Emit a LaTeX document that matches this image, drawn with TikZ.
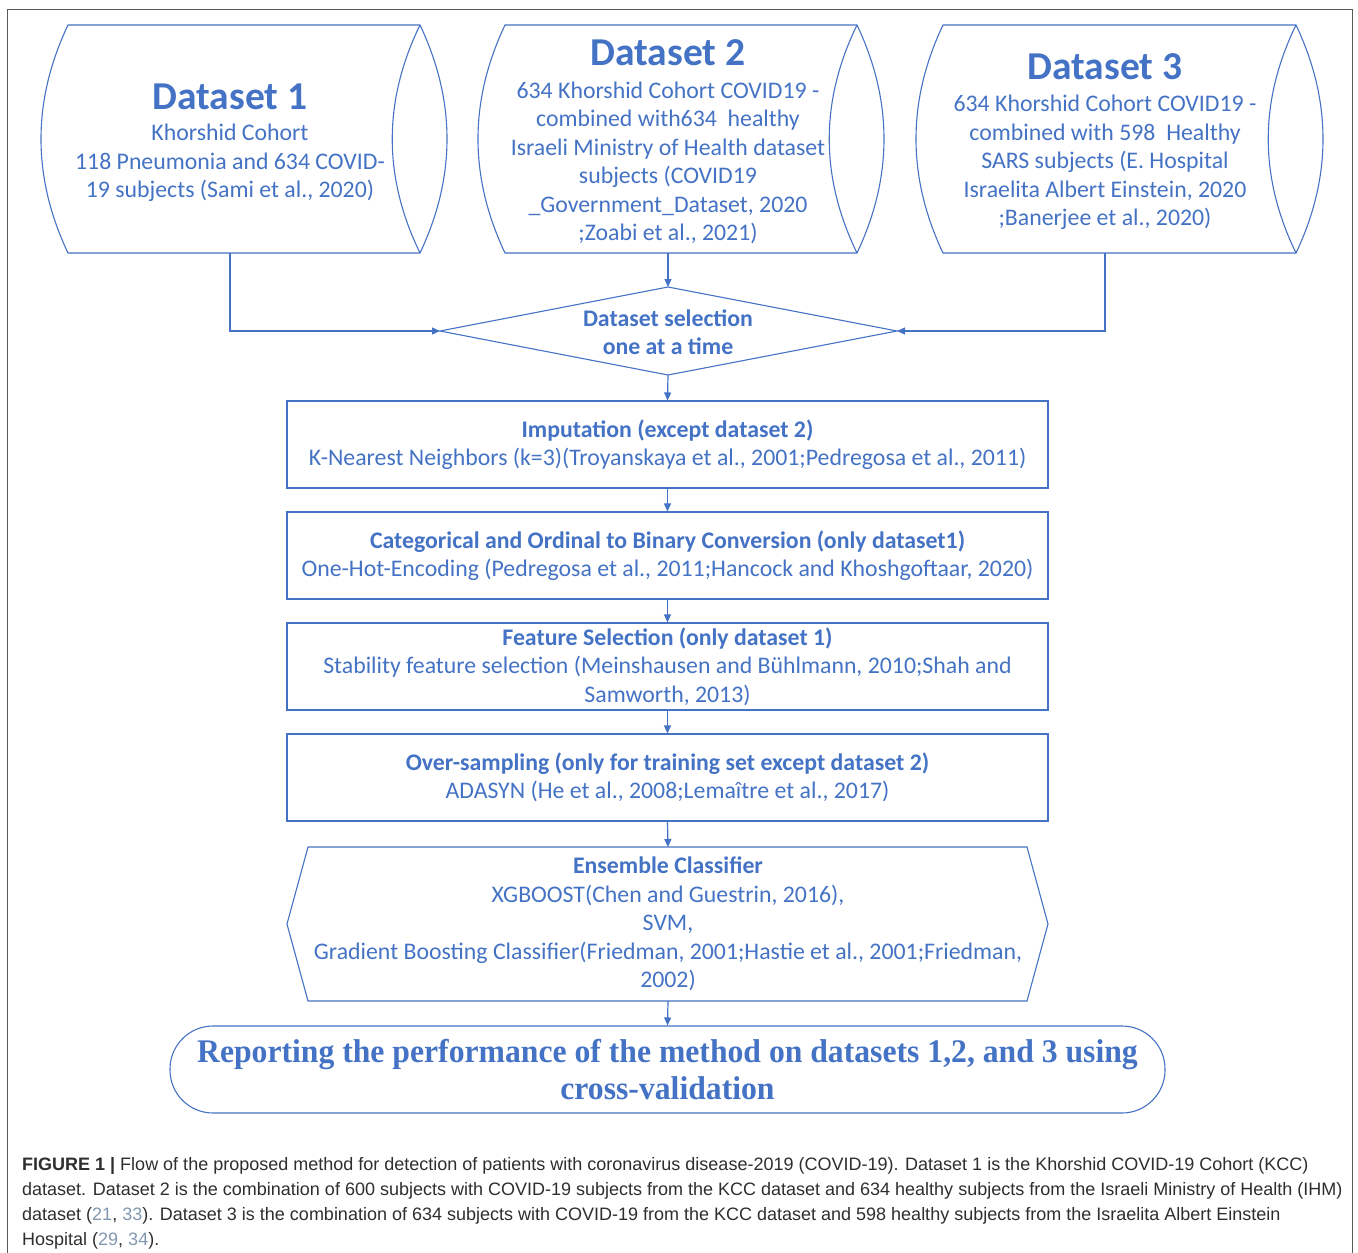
\documentclass[tikz,border=0pt]{standalone}
\usepackage{fontspec}
\setmainfont{Carlito}
\newfontfamily\repfont[FakeStretch=0.96]{Liberation Serif}
\newfontfamily\capfont{Liberation Sans}
\usetikzlibrary{arrows.meta}
\definecolor{myblue}{HTML}{4472C4}
\definecolor{capgray}{HTML}{2E2E2E}
\definecolor{citeblue}{HTML}{8297B0}
\newcommand\dbshape[2]{%
  \draw[shapeline] (#1,25) -- (#2,25) .. controls (#2+36,101) and (#2+36,177) .. (#2,253) -- (#1,253) .. controls (#1-36,177) and (#1-36,101) .. (#1,25) -- cycle;
  \draw[shapeline] (#2,25) .. controls (#2-37,101) and (#2-37,177) .. (#2,253);
}
\newcommand\citec[1]{\textcolor{citeblue}{#1}}
\begin{document}
\begin{tikzpicture}[x=1pt,y=-1pt,
  shapeline/.style={draw=myblue, line width=1.1},
  arr/.style={draw=myblue, line width=1.2, -{Triangle[length=8,width=7]}},
  body/.style={text=myblue, font=\fontsize{23.8}{28.5}\selectfont, align=center, inner sep=0},
  dstitle/.style={text=myblue, font=\fontsize{39.5}{42}\selectfont\bfseries, inner sep=0},
  procbox/.style={draw=myblue, line width=1.1, minimum width=761, minimum height=87, text=myblue, font=\fontsize{23.8}{28.5}\selectfont, align=center, inner sep=0},
  captext/.style={anchor=base west, inner sep=0, text=capgray, font=\capfont\fontsize{18}{22}\selectfont},
]
\useasboundingbox (0,0) rectangle (1358,1253);
% outer frame
\draw[draw=black!65, line width=0.9] (7,9) rectangle (1352,1275);

% datasets
\dbshape{68}{420}
\dbshape{505}{857}
\dbshape{943}{1296}

\node[dstitle] (d1t) at (230,97) {Dataset 1};
\node[body] (d1b) at (230,163) {Khorshid Cohort\\118 Pneumonia and 634 COVID-\\19 subjects (Sami et al., 2020)};

\node[dstitle] (d2t) at (668,53) {Dataset 2};
\node[body] (d2b) at (668,163) {634 Khorshid Cohort COVID19 -\\combined with634\ \ healthy\\Israeli Ministry of Health dataset\\subjects (COVID19\\\_Government\_Dataset, 2020\\;Zoabi et al., 2021)};

\node[dstitle] (d3t) at (1105,67) {Dataset 3};
\node[body] (d3b) at (1105,162.5) {634 Khorshid Cohort COVID19 -\\combined with 598\ \ Healthy\\SARS subjects (E. Hospital\\Israelita Albert Einstein, 2020\\;Banerjee et al., 2020)};

\coordinate (d1out) at (230,253);
\coordinate (d2out) at (668,253);
\coordinate (d3out) at (1105,253);

% selection diamond
\coordinate (selW) at (440,331);
\coordinate (selE) at (897,331);
\coordinate (selN) at (668,287);
\coordinate (selS) at (668,375);
\draw[shapeline] (selN) -- (selE) -- (selS) -- (selW) -- cycle;
\node[body, font=\fontsize{23.8}{28.5}\selectfont\bfseries] (sel) at (668,332) {Dataset selection\\one at a time};

% process boxes
\node[procbox] (imp) at (667.5,444.5) {\textbf{Imputation (except dataset 2)}\\K-Nearest Neighbors (k=3)(Troyanskaya et al., 2001;Pedregosa et al., 2011)};
\node[procbox] (cat) at (667.5,555.5) {\textbf{Categorical and Ordinal to Binary Conversion (only dataset1)}\\One-Hot-Encoding (Pedregosa et al., 2011;Hancock and Khoshgoftaar, 2020)};
\node[procbox] (fs) at (667.5,666.5) {\textbf{Feature Selection (only dataset 1)}\\Stability feature selection (Meinshausen and Bühlmann, 2010;Shah and\\Samworth, 2013)};
\node[procbox] (ovs) at (667.5,777.5) {\textbf{Over-sampling (only for training set except dataset 2)}\\ADASYN (He et al., 2008;Lemaître et al., 2017)};

% ensemble hexagon
\coordinate (ensN) at (668,847);
\coordinate (ensS) at (668,1001);
\draw[shapeline] (308,847) -- (1027,847) -- (1048,924) -- (1027,1001) -- (308,1001) -- (287,924) -- cycle;
\node[body] (ens) at (668,924) {\textbf{Ensemble Classifier}\\XGBOOST(Chen and Guestrin, 2016),\\SVM,\\Gradient Boosting Classifier(Friedman, 2001;Hastie et al., 2001;Friedman,\\2002)};

% report terminator
\node[draw=myblue, line width=1.1, rounded corners=43, minimum width=995, minimum height=87, inner sep=0, text=myblue, align=center, font=\repfont\bfseries\fontsize{33}{37.5}\selectfont] (rep) at (667.5,1069.5) {Reporting the performance of the method on datasets 1,2, and 3 using\\cross-validation};

% connectors
\draw[arr] (d1out) |- (selW);
\draw[arr] (d2out) -- (selN);
\draw[arr] (d3out) |- (selE);
\draw[arr] (selS) -- (imp.north);
\draw[arr] (imp.south) -- (cat.north);
\draw[arr] (cat.south) -- (fs.north);
\draw[arr] (fs.south) -- (ovs.north);
\draw[arr] (ovs.south) -- (ensN);
\draw[arr] (ensS) -- (rep.north);

% caption
\node[captext] (cap1) at (22,1170) {{\bfseries FIGURE 1 |} Flow of the proposed method for detection of patients with coronavirus disease-2019 (COVID-19). Dataset 1 is the Khorshid COVID-19 Cohort (KCC)};
\node[captext] (cap2) at (22,1195) {dataset. Dataset 2 is the combination of 600 subjects with COVID-19 subjects from the KCC dataset and 634 healthy subjects from the Israeli Ministry of Health (IHM)};
\node[captext] (cap3) at (22,1220) {dataset (\citec{21}, \citec{33}). Dataset 3 is the combination of 634 subjects with COVID-19 from the KCC dataset and 598 healthy subjects from the Israelita Albert Einstein};
\node[captext] (cap4) at (22,1245) {Hospital (\citec{29}, \citec{34}).};
\end{tikzpicture}
\end{document}
